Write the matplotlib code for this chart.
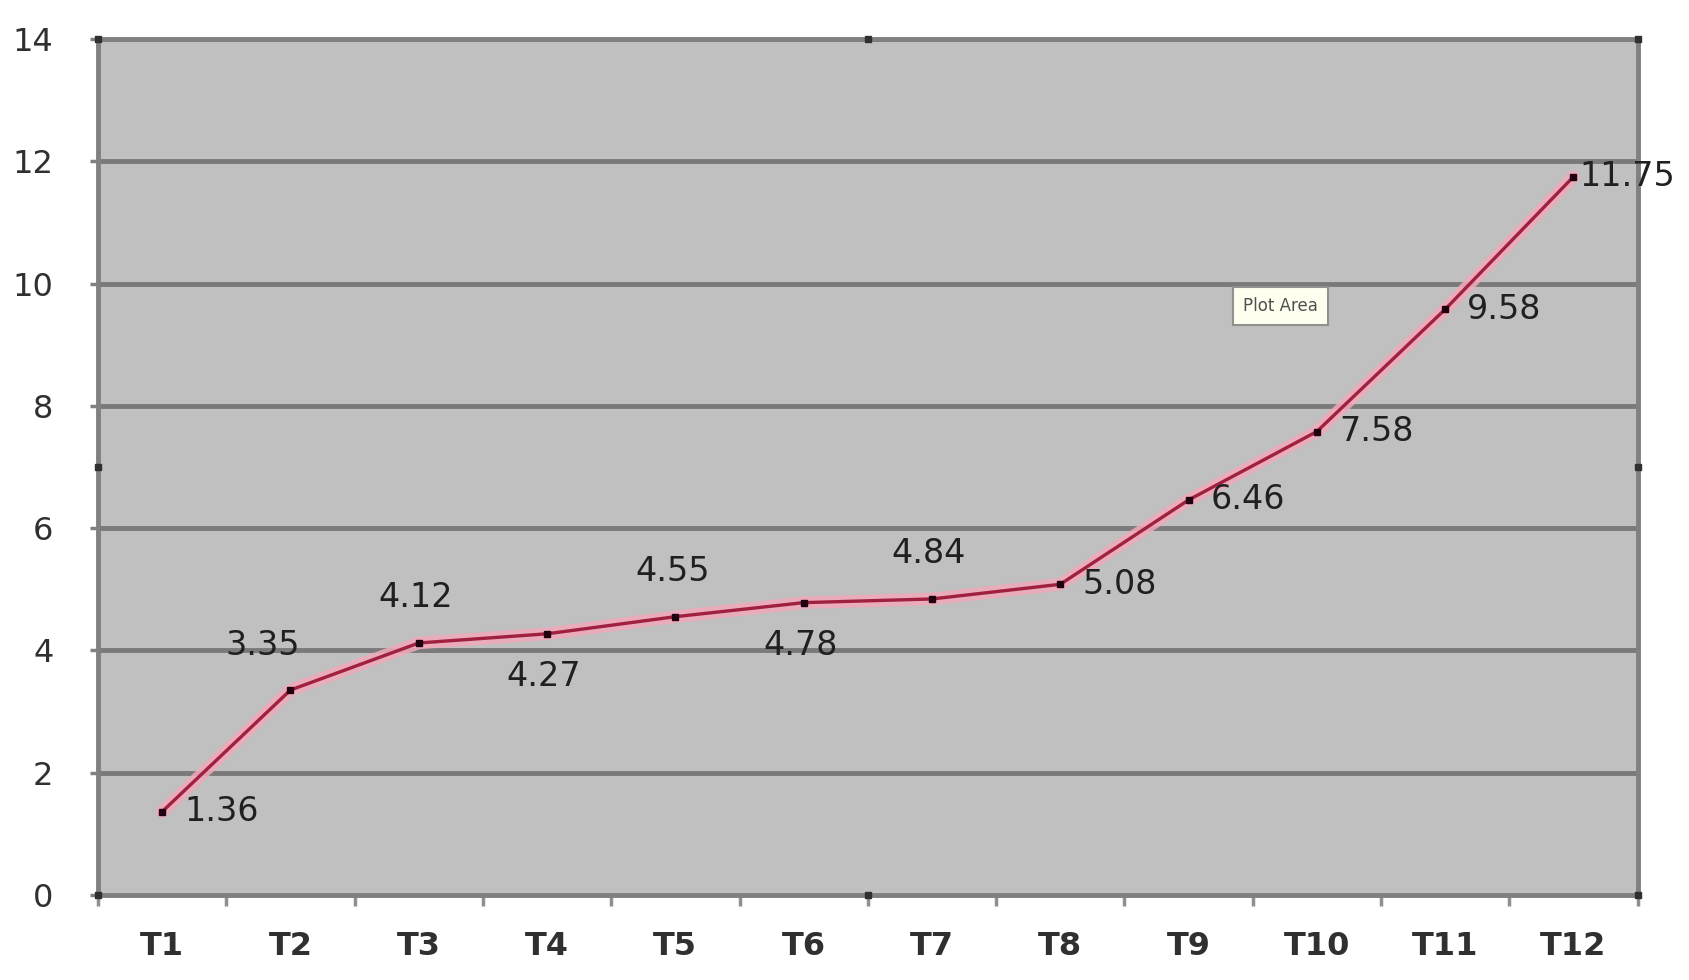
import numpy as np
import matplotlib
matplotlib.use("Agg")
import matplotlib.pyplot as plt

# data
categories = ['T1', 'T2', 'T3', 'T4', 'T5', 'T6', 'T7', 'T8', 'T9', 'T10', 'T11', 'T12']
values = [1.36, 3.35, 4.12, 4.27, 4.55, 4.78, 4.84, 5.08, 6.46, 7.58, 9.58, 11.75]
# where each data label sits relative to its point
label_pos = ['right', 'above', 'above', 'below', 'above', 'below',
             'above', 'right', 'right', 'right', 'right', 'right']

fig = plt.figure(figsize=(16.9, 9.8), dpi=100)
ax = fig.add_axes([0.058, 0.087, 0.911, 0.873])
ax.set_facecolor('#C0C0C0')

x = np.arange(len(categories)) + 0.5
ax.set_xlim(0, len(categories))
ax.set_ylim(0, 14)

# grid lines (Excel style)
for y in range(2, 15, 2):
    ax.axhline(y, color='#7A7A7A', linewidth=3.5, zorder=1)

# line: pink halo + dark red core
ax.plot(x, values, color='#F2A8BA', linewidth=9, alpha=0.85, zorder=2, solid_capstyle='round')
ax.plot(x, values, color='#A02040', linewidth=2.4, zorder=3)
ax.plot(x, values, linestyle='none', marker='s', markersize=4, color='#200010', zorder=4)

# data labels
offsets = {'right': (22, 0, 'left', 'center'),
           'above': (-3, 45, 'center', 'center'),
           'below': (-3, -43, 'center', 'center')}
for i, (xi, v) in enumerate(zip(x, values)):
    dx, dy, ha, va = offsets[label_pos[i]]
    if i == 1:
        dx = -28
    if i == 11:
        dx = 6
    ax.annotate(f'{v:.2f}', (xi, v), xytext=(dx, dy), textcoords='offset pixels',
                ha=ha, va=va, fontsize=24, color='#202020', zorder=5)

# axes: category ticks between categories
ax.set_xticks(np.arange(0, len(categories) + 1))
ax.set_xticklabels([])
ax.set_xticks(x, minor=True)
ax.set_xticklabels(categories, minor=True, fontsize=23, fontweight='bold', color='#303030')
ax.tick_params(axis='x', which='major', length=8, width=2.5, color='#909090', direction='out')
ax.tick_params(axis='x', which='minor', length=0, pad=26)
ax.set_yticks(range(0, 15, 2))
ax.set_yticklabels([str(t) for t in range(0, 15, 2)], fontsize=23, color='#303030')
ax.tick_params(axis='y', length=6, width=2.5, color='#808080', pad=26)

for side in ['left', 'bottom', 'top', 'right']:
    ax.spines[side].set_color('#808080')
    ax.spines[side].set_linewidth(3.5)

# selection handles around plot area
hx = [0, 0.5, 1, 1, 1, 0.5, 0, 0]
hy = [1, 1, 1, 0.5, 0, 0, 0, 0.5]
ax.plot(hx, hy, linestyle='none', marker='s', markersize=5, color='#303030',
        transform=ax.transAxes, clip_on=False, zorder=6)

# "Plot Area" tooltip
ax.text(0.768, 0.688, 'Plot Area', transform=ax.transAxes, fontsize=12, color='#505050',
        ha='center', va='center', zorder=6,
        bbox=dict(boxstyle='square,pad=0.6', facecolor='#FFFFF0', edgecolor='#909090', linewidth=1.5))

fig.savefig('out.png', dpi=100, facecolor='white')
